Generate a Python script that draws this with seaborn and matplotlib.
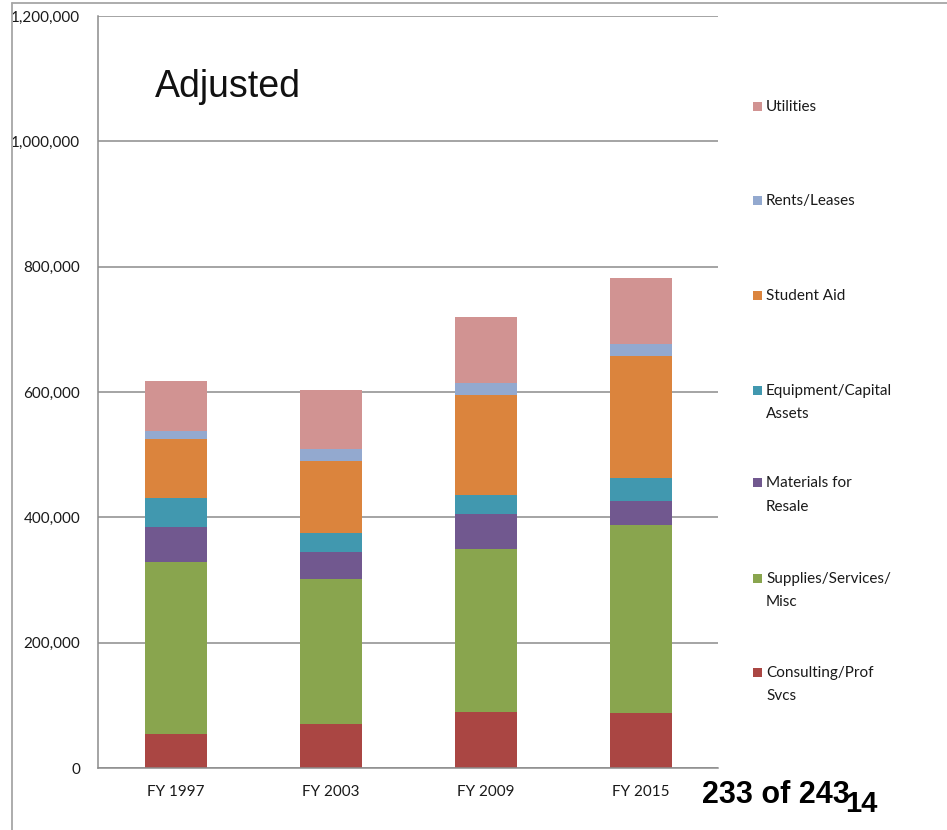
import matplotlib
matplotlib.use("Agg")
import matplotlib.pyplot as plt
from matplotlib.patches import Rectangle
from matplotlib.lines import Line2D
from matplotlib.ticker import FuncFormatter
import numpy as np
import pandas as pd
import seaborn as sns

# Spending by category, adjusted dollars
years = ["FY 1997", "FY 2003", "FY 2009", "FY 2015"]
consulting = [54000, 70000, 89000, 87000]
supplies = [274000, 231000, 260000, 301000]
materials = [56000, 44000, 56000, 38000]
equipment = [47000, 30000, 31000, 37000]
student_aid = [94000, 115000, 159000, 195000]
rents = [12000, 19000, 19000, 18000]
utilities = [80000, 94000, 106000, 106000]

# stacking order, bottom to top
series_names = ["Consulting/Prof Svcs", "Supplies/Services/Misc", "Materials for Resale",
                "Equipment/Capital Assets", "Student Aid", "Rents/Leases", "Utilities"]
legend_lines = [["Consulting/Prof", "Svcs"], ["Supplies/Services/", "Misc"],
                ["Materials for", "Resale"], ["Equipment/Capital", "Assets"],
                ["Student Aid"], ["Rents/Leases"], ["Utilities"]]
colors = ["#AA4643", "#89A54E", "#71588F", "#4198AF", "#DB843D", "#93A9CF", "#D19392"]
y_ticks = [0, 200000, 400000, 600000, 800000, 1000000, 1200000]

values = [consulting, supplies, materials, equipment, student_aid, rents, utilities]
df = pd.DataFrame(dict(zip(series_names, values)), index=years)
cum = df.cumsum(axis=1)

sns.set_style("white")
narrow = ["Lato", "DejaVu Sans"]
arial = ["Liberation Sans", "DejaVu Sans"]
plt.rcParams["font.family"] = narrow

W, H = 947, 830
fig = plt.figure(figsize=(W / 100, H / 100), dpi=100)
fig.patch.set_facecolor("white")


def fx(px):
    return px / W


def fy(py):
    return 1 - py / H


ax = fig.add_axes([fx(98), fy(768), fx(718) - fx(98), fy(16) - fy(768)])

# draw cumulative totals from the top layer down so each layer covers the one above
for name, color in reversed(list(zip(series_names, colors))):
    sns.barplot(x=years, y=cum[name].values, color=color, width=0.4,
                saturation=1, errorbar=None, order=years, ax=ax,
                linewidth=0, edgecolor=color)

grid_c = "#8C8C8C"
txt_c = "#1a1a1a"
fs = 11
ax.set_ylim(0, 1200000)
ax.set_xlim(-0.5, len(years) - 0.5)
ax.set_yticks(y_ticks)
ax.yaxis.set_major_formatter(FuncFormatter(lambda v, p: f"{int(v):,}"))
ax.yaxis.grid(True, color=grid_c, lw=1.1)
ax.set_axisbelow(True)
ax.set_xlabel("")
ax.set_ylabel("")
for s in ["top", "right"]:
    ax.spines[s].set_visible(False)
for s in ["left", "bottom"]:
    ax.spines[s].set_color(grid_c)
    ax.spines[s].set_linewidth(1.1)

ax.set_xticks(range(len(years)))
ax.set_xticklabels(years)
ax.set_xticks(np.arange(-0.5, len(years), 1.0), minor=True)
ax.tick_params(axis="x", which="major", length=0, pad=12, labelsize=fs, labelcolor=txt_c)
ax.tick_params(axis="x", which="minor", length=5, width=1.1, color=grid_c, direction="out")
ax.tick_params(axis="y", which="major", length=4.3, width=1.1, color=grid_c,
               direction="out", pad=8.5, labelsize=fs, labelcolor=txt_c)

# outer chart frame
frame_c = "#A6A6A6"
fig.add_artist(Line2D([fx(12), 1], [fy(3), fy(3)], transform=fig.transFigure, color=frame_c, lw=1.3))
fig.add_artist(Line2D([fx(12), fx(12)], [0, fy(3)], transform=fig.transFigure, color=frame_c, lw=1.3))

# title inside the plot
fig.text(fx(155), fy(97), "Adjusted", fontsize=27, family=arial, va="baseline", color="#111111")

# legend, top entry first
baselines = [110.7, 205, 300, 395, 487, 582.7, 676.7]
for i, (lines, color) in enumerate(zip(reversed(legend_lines), reversed(colors))):
    b = baselines[i]
    fig.add_artist(Rectangle((fx(753), fy(b)), fx(9), 9 / H, transform=fig.transFigure,
                             facecolor=color, edgecolor="none"))
    for j, line in enumerate(lines):
        fig.text(fx(766), fy(b + 23.5 * j), line, fontsize=fs, va="baseline", color=txt_c)

# page marks
fig.text(fx(702), fy(803), "233 of 243", fontsize=22, fontweight="bold", family=arial,
         va="baseline", color="black")
fig.text(fx(845), fy(812), "14", fontsize=21, fontweight="bold", family=arial,
         va="baseline", color="black")

fig.savefig("out.png", dpi=100, facecolor="white")
